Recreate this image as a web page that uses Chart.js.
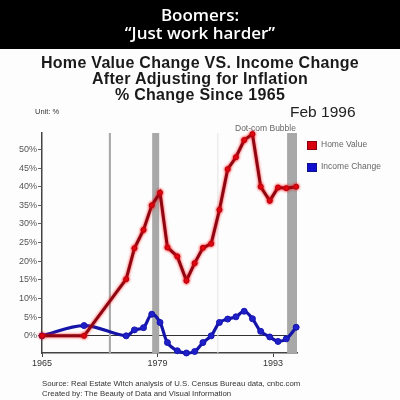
<!DOCTYPE html>
<html>
<head>
<meta charset="utf-8">
<script src="https://cdn.jsdelivr.net/npm/chart.js@4.4.1/dist/chart.umd.min.js"></script>
<style>
  html, body { margin: 0; padding: 0; background: #fdfdfd; }
  #wrap { position: relative; width: 400px; height: 400px; overflow: hidden; font-family: "Liberation Sans", Arial, sans-serif; }
  #band { position: absolute; left: 0; top: 0; width: 400px; height: 49px; background: #000; }
  canvas { position: absolute; left: 0; top: 0; }
  .t { position: absolute; white-space: nowrap; height: 20px; line-height: 20px; }
  .c { left: 0; width: 400px; text-align: center; }
  .hd { color: #fff; font-size: 17px; font-family: "Open Sans", sans-serif; font-weight: 600; }
  .ttl { color: #1a1a1a; font-size: 16px; font-weight: bold; letter-spacing: 0.3px; }
  .sw { position: absolute; width: 8px; height: 7px; }
</style>
</head>
<body>
<div id="wrap">
  <div id="band"></div>
  <canvas id="lineChart" width="400" height="400"></canvas>
  <div class="t c hd" style="top:5px">Boomers:</div>
  <div class="t c hd" style="top:23px">“Just work harder”</div>
  <div class="t c ttl" style="top:53px">Home Value Change VS. Income Change</div>
  <div class="t c ttl" style="top:69px">After Adjusting for Inflation</div>
  <div class="t c ttl" style="top:85px">% Change Since 1965</div>
  <div class="t" style="left:35px;top:102px;font-size:7.5px;color:#333">Unit: %</div>
  <div class="t" style="left:290px;top:102px;font-size:15.5px;color:#222">Feb 1996</div>
  <div class="t" style="left:235px;top:118px;font-size:8.5px;color:#666">Dot-com Bubble</div>
  <div class="sw" style="left:307px;top:141px;background:#d8000f;border:1px solid #8a0010;"></div>
  <div class="t" style="left:321px;top:134px;font-size:8.5px;color:#666">Home Value</div>
  <div class="sw" style="left:307px;top:163px;background:#1010d0;border:1px solid #10108a;"></div>
  <div class="t" style="left:321px;top:156px;font-size:8.5px;color:#666">Income Change</div>
  <div class="t" style="left:42px;top:374px;font-size:7.8px;color:#333">Source: Real Estate Witch analysis of U.S. Census Bureau data, cnbc.com</div>
  <div class="t" style="left:42px;top:384px;font-size:7.8px;color:#333">Created by: The Beauty of Data and Visual Information</div>
</div>
<script>
// Data
const years = [1965, 1970.1, 1975.2, 1976.2, 1977.3, 1978.3, 1979.3, 1980.2, 1981.4, 1982.5, 1983.5,
    1984.5, 1985.5, 1986.5, 1987.5, 1988.5, 1989.5, 1990.5, 1991.5, 1992.6, 1993.6, 1994.6, 1995.8];
const homeValue = [0, 0, 15.2, 23.5, 28.4, 35, 38.4, 23.7, 21.3, 14.8, 19.5,
    23.6, 24.7, 33.8, 44.7, 47.9, 52.5, 54.1, 40, 36.2, 39.8, 39.6, 40];
const incomeChange = [0, 2.75, 0, 1.6, 2.2, 5.8, 3.6, -1.8, -4.0, -4.6, -4.2,
    -1.8, 0, 3.6, 4.5, 5.1, 6.6, 4.6, 1.2, -0.3, -1.5, -0.8, 2.3];
const xTicks = [1965, 1979, 1993];
const yTicks = [0, 5, 10, 15, 20, 25, 30, 35, 40, 45, 50];

// Shaded periods (start year, end year, colour)
const shadedBands = [
    [1973.1, 1973.35, '#a8a8a8'],
    [1978.35, 1979.2, '#a8a8a8'],
    [1986.25, 1986.35, '#e4e4e4'],
    [1994.7, 1995.9, '#a8a8a8']
];

function toPoints(values) {
    return values.map((v, i) => ({ x: years[i], y: v }));
}

// draws the grey bars behind the lines
const bandPlugin = {
    id: 'bands',
    beforeDatasetsDraw(chart) {
        const ctx = chart.ctx;
        const xs = chart.scales.x;
        const area = chart.chartArea;
        ctx.save();
        shadedBands.forEach(b => {
            const x1 = xs.getPixelForValue(b[0]);
            const x2 = xs.getPixelForValue(b[1]);
            ctx.fillStyle = b[2];
            ctx.fillRect(x1, area.top, Math.max(x2 - x1, 1), area.bottom - area.top);
        });
        ctx.restore();
    }
};

// red glow around the home value line
const glowPlugin = {
    id: 'glow',
    beforeDatasetDraw(chart, args) {
        if (args.index === 0) {
            chart.ctx.save();
            chart.ctx.shadowColor = 'rgba(255,20,20,0.9)';
            chart.ctx.shadowBlur = 3;
        }
    },
    afterDatasetDraw(chart, args) {
        if (args.index === 0) chart.ctx.restore();
    }
};

const ctx = document.getElementById('lineChart').getContext('2d');

new Chart(ctx, {
    type: 'line',
    data: {
        datasets: [{
            label: 'Home Value',
            data: toPoints(homeValue),
            borderColor: '#8e0612',
            borderWidth: 3,
            pointRadius: 2.5,
            pointBackgroundColor: '#d8000f',
            pointBorderColor: '#b0000c',
            pointBorderWidth: 1,
            tension: 0,
            clip: false
        }, {
            label: 'Income Change',
            data: toPoints(incomeChange),
            borderColor: '#1414a8',
            borderWidth: 3.2,
            pointRadius: 3,
            pointBackgroundColor: '#2020c8',
            pointBorderColor: '#1414b0',
            pointBorderWidth: 1,
            tension: 0.35,
            clip: false
        }]
    },
    options: {
        responsive: false,
        animation: false,
        layout: { padding: { top: 133, right: 103, bottom: 0, left: 0 } },
        plugins: {
            legend: { display: false },
            tooltip: { enabled: false }
        },
        scales: {
            x: {
                type: 'linear',
                min: 1965,
                max: 1995.9,
                afterBuildTicks: scale => { scale.ticks = xTicks.map(v => ({ value: v })); },
                afterFit: scale => { scale.height = 47; },
                ticks: {
                    callback: v => String(v),
                    color: '#333',
                    font: { size: 9, family: 'Liberation Sans' },
                    padding: 1,
                    maxRotation: 0
                },
                grid: { drawOnChartArea: false, tickLength: 4, color: '#444' },
                border: { color: '#444', width: 1.5 }
            },
            y: {
                min: -4.6,
                max: 54.4,
                afterBuildTicks: scale => { scale.ticks = yTicks.map(v => ({ value: v })); },
                afterFit: scale => { scale.width = 42; },
                ticks: {
                    callback: v => v + '%',
                    color: '#555',
                    font: { size: 9, family: 'Liberation Sans' },
                    padding: 1
                },
                grid: {
                    color: c => (c.tick && c.tick.value === 0) ? '#333' : 'rgba(0,0,0,0)',
                    tickColor: '#666',
                    tickLength: 4
                },
                border: { color: '#444', width: 1.5 }
            }
        }
    },
    plugins: [bandPlugin, glowPlugin]
});
</script>
</body>
</html>
